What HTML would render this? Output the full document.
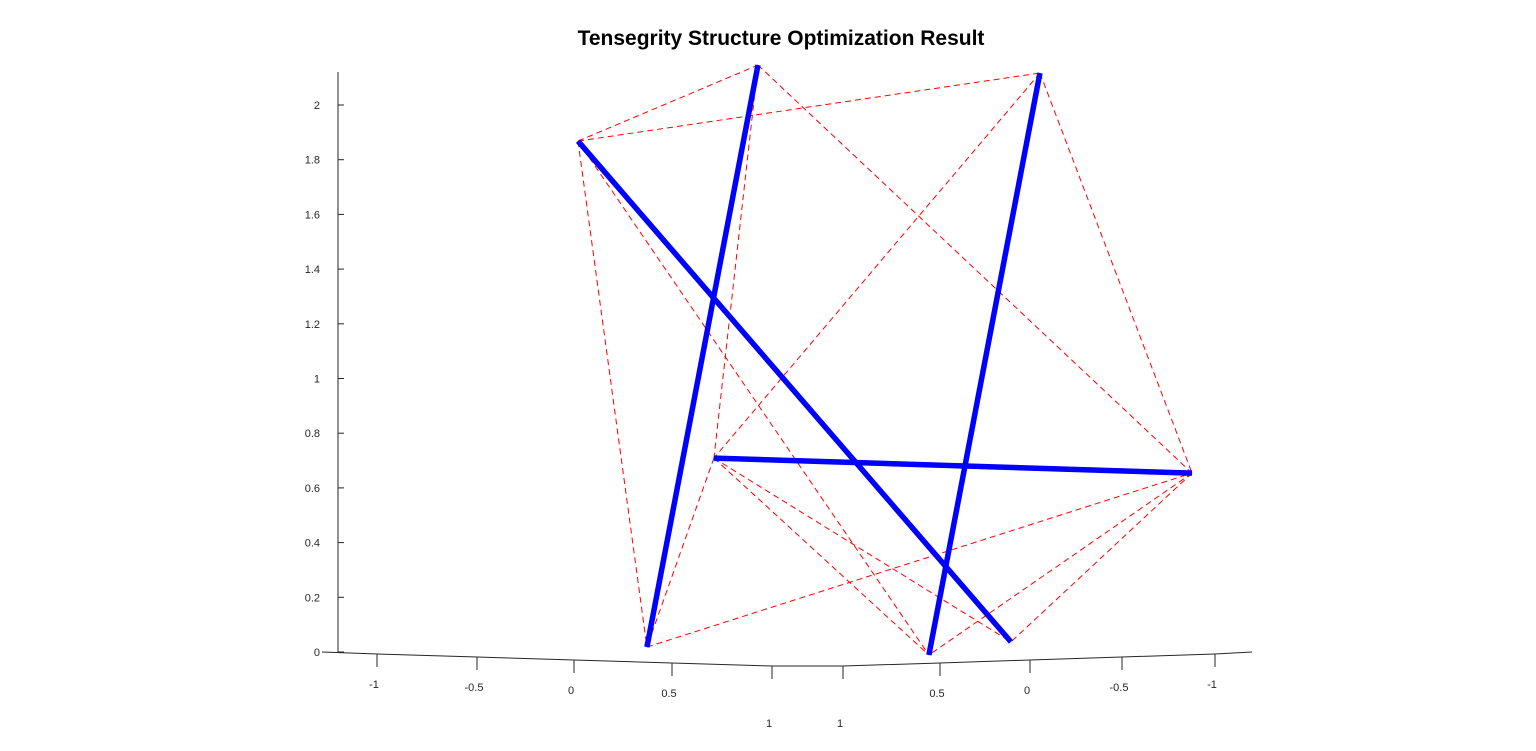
<!DOCTYPE html>
<html><head><meta charset="utf-8"><style>
body{margin:0;background:#fff;}
svg{display:block;font-family:"Liberation Sans",Arial,sans-serif;}
</style></head><body>
<svg id="chart" width="1536" height="751">
<text x="781" y="45" text-anchor="middle" font-size="21" font-weight="bold">Tensegrity Structure Optimization Result</text>
<g id="axes"></g>
<g id="cables"></g>
<g id="bars"></g>
</svg>
<script>
// node heights (z, read from y-axis) and horizontal screen-plane coordinate (projected)
const nodeZ = [1.868, 2.146, 2.117, 0.709, 0.654, 0.018, -0.011, 0.037];
const nodeH = [0.0, 0.658, 1.689, 0.497, 2.245, 0.252, 1.283, 1.583];
const barPairs = [[1,5],[2,6],[0,7],[3,4]];
const cablePairs = [[0,1],[0,2],[1,4],[1,3],[2,3],[2,4],[0,5],[0,6],[3,5],[3,6],[3,7],[5,4],[4,6],[4,7]];
const yTicks = [0,0.2,0.4,0.6,0.8,1,1.2,1.4,1.6,1.8,2];
const xTickLabels = ["-1","-0.5","0","0.5","1","1","0.5","0","-0.5","-1"];

const NS="http://www.w3.org/2000/svg";
const sy = v => 652 - v*273.5;
const sx = h => 578 + h*273.5;
function mk(tag, attrs, parent){const e=document.createElementNS(NS,tag);for(const k in attrs)e.setAttribute(k,attrs[k]);parent.appendChild(e);return e;}
const axes=document.getElementById('axes');
let yl=mk('line',{x1:338,y1:72,x2:338,y2:652,stroke:'#262626','stroke-width':1},axes);


yTicks.forEach(t=>{
  const y=sy(t);
  mk('line',{x1:338,y1:y,x2:344,y2:y,stroke:'#262626'},axes);
  const tx=mk('text',{x:320,y:y+4,'text-anchor':'end','font-size':11,fill:'#262626'},axes);
  tx.textContent=String(t);
  
  
});
let bl=mk('polyline',{points:'322,652 377,654 477,657 574,660 672,663 772,666 843,666 940,663 1030,660 1122,657 1215,654 1252,652',fill:'none',stroke:'#262626'},axes);


const tickX=[377,477,574,672,772,843,940,1030,1122,1215];
const tickY=[654,657,660,663,666,666,663,660,657,654];
const labY=[688,691,694,697,727,727,697,694,691,688];
xTickLabels.forEach((l,i)=>{
  mk('line',{x1:tickX[i],y1:tickY[i],x2:tickX[i],y2:tickY[i]+13,stroke:'#262626'},axes);
  const tx=mk('text',{x:tickX[i]-3,y:labY[i],'text-anchor':'middle','font-size':11,fill:'#262626'},axes);
  tx.textContent=l;
  
  
});
const cg=document.getElementById('cables');
cablePairs.forEach(p=>{
  const a=p[0],b=p[1];
  const ln=mk('line',{x1:sx(nodeH[a]),y1:sy(nodeZ[a]),x2:sx(nodeH[b]),y2:sy(nodeZ[b]),stroke:'#ff0000','stroke-width':1,'stroke-dasharray':'6,4'},cg);
  
  
});
const bg=document.getElementById('bars');
barPairs.forEach(p=>{
  const a=p[0],b=p[1];
  const ln=mk('line',{x1:sx(nodeH[a]),y1:sy(nodeZ[a]),x2:sx(nodeH[b]),y2:sy(nodeZ[b]),stroke:'#0000ff','stroke-width':5.5},bg);
  
  
});
</script>
</body></html>
